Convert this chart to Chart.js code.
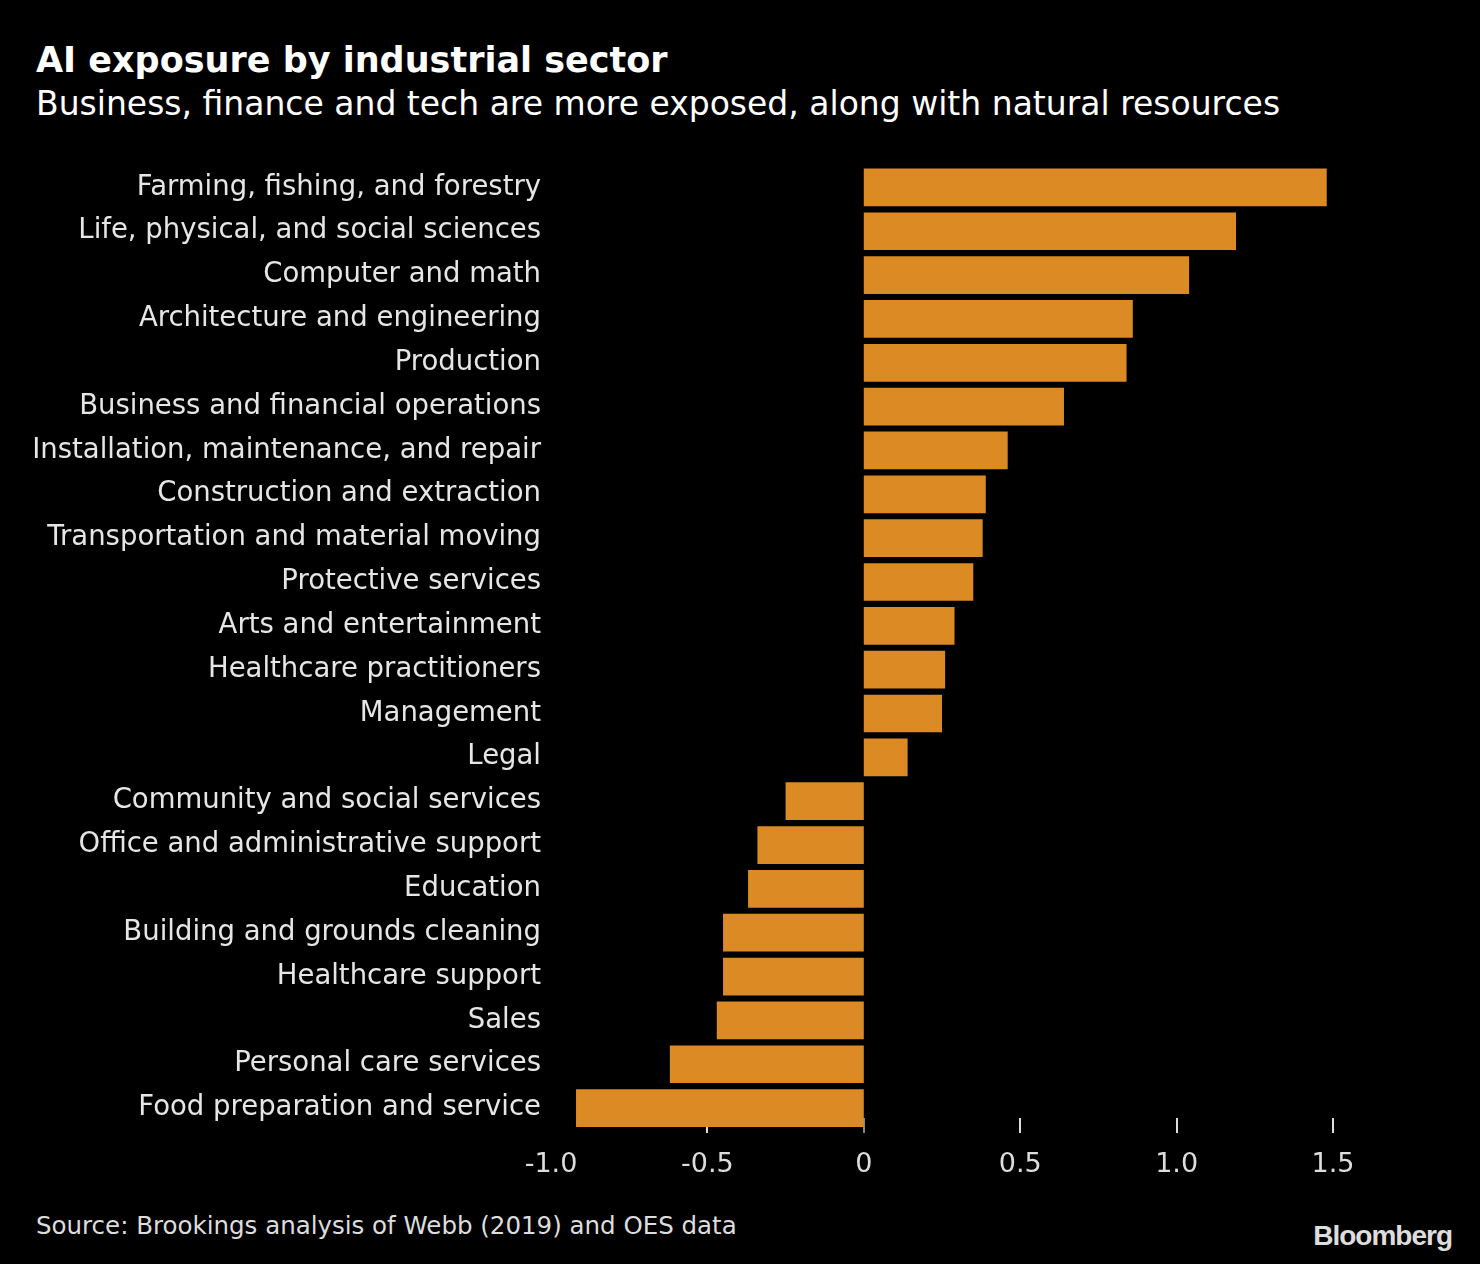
<!DOCTYPE html>
<html>
<head>
<meta charset="utf-8">
<script src="https://cdn.jsdelivr.net/npm/chart.js@4/dist/chart.umd.min.js"></script>
<style>
  html, body { margin:0; padding:0; background:#000; }
  body { width:1480px; height:1264px; position:relative; overflow:hidden; font-family:"DejaVu Sans",sans-serif; }
  .title { position:absolute; left:36px; top:40px; color:#fff; font-size:35px; font-weight:bold; }
  .subtitle { position:absolute; left:36px; top:84px; color:#fff; font-size:33px; }
  .source { position:absolute; left:36px; top:1211px; color:#ddd; font-size:24.5px; }
  .logo { position:absolute; right:28px; top:1220px; color:#ddd; font-size:28px; font-weight:bold; font-family:"Liberation Sans",Arial,sans-serif; letter-spacing:-1px; }
  #wrap { position:absolute; left:0; top:139px; width:1480px; height:1061px; }
</style>
</head>
<body>
<div class="title">AI exposure by industrial sector</div>
<div class="subtitle">Business, finance and tech are more exposed, along with natural resources</div>
<div id="wrap"><canvas id="chart"></canvas></div>
<div class="source">Source: Brookings analysis of Webb (2019) and OES data</div>
<div class="logo">Bloomberg</div>
<script>
// sectors, top to bottom
const sectors = [
  'Farming, fishing, and forestry',
  'Life, physical, and social sciences',
  'Computer and math',
  'Architecture and engineering',
  'Production',
  'Business and financial operations',
  'Installation, maintenance, and repair',
  'Construction and extraction',
  'Transportation and material moving',
  'Protective services',
  'Arts and entertainment',
  'Healthcare practitioners',
  'Management',
  'Legal',
  'Community and social services',
  'Office and administrative support',
  'Education',
  'Building and grounds cleaning',
  'Healthcare support',
  'Sales',
  'Personal care services',
  'Food preparation and service'
];
// exposure score
const exposure = [1.48, 1.19, 1.04, 0.86, 0.84, 0.64, 0.46, 0.39, 0.38, 0.35, 0.29, 0.26, 0.25, 0.14,
  -0.25, -0.34, -0.37, -0.45, -0.45, -0.47, -0.62, -0.92];
const tickValues = [-1.0, -0.5, 0, 0.5, 1.0, 1.5];
const tickLabels = ['-1.0', '-0.5', '0', '0.5', '1.0', '1.5'];

const FONT = '"DejaVu Sans",sans-serif';

// tick marks under the plot, drawn behind the bars
const tickMarks = {
  id: 'tickMarks',
  beforeDatasetsDraw(chart){
    const { ctx, chartArea, scales } = chart;
    ctx.save();
    ctx.lineWidth = 2;
    tickValues.forEach(v => {
      if (v === tickValues[0]) return;
      const x = Math.round(scales.x.getPixelForValue(v));
      ctx.strokeStyle = v === 0 ? '#888' : '#ddd';
      ctx.beginPath();
      ctx.moveTo(x, chartArea.bottom - 12);
      ctx.lineTo(x, chartArea.bottom + 3);
      ctx.stroke();
    });
    ctx.restore();
  }
};

new Chart(document.getElementById('chart'), {
  type: 'bar',
  data: {
    labels: sectors,
    datasets: [{ data: exposure, backgroundColor: '#DB8A24', barPercentage: 0.86, categoryPercentage: 1 }]
  },
  options: {
    indexAxis: 'y',
    responsive: true,
    maintainAspectRatio: false,
    animation: false,
    layout: { padding: { top: 0, right: 147, bottom: 0, left: 0 } },
    plugins: { legend: { display: false }, tooltip: { enabled: false } },
    scales: {
      x: {
        min: -1.0, max: 1.5,
        grid: { display: false, drawTicks: false },
        border: { display: false },
        afterBuildTicks: s => { s.ticks = tickValues.map(v => ({ value: v })); },
        afterFit: s => { s.height = 70; },
        ticks: {
          color: '#ddd', padding: 19,
          font: { family: FONT, size: 27 },
          callback: (v, i) => tickLabels[i]
        }
      },
      y: {
        grid: { display: false, drawTicks: false },
        border: { display: false },
        afterFit: s => { s.width = 551; },
        ticks: { color: '#e6e6e6', padding: 10, font: { family: FONT, size: 27.5 } }
      }
    }
  },
  plugins: [tickMarks]
});
</script>
</body>
</html>
